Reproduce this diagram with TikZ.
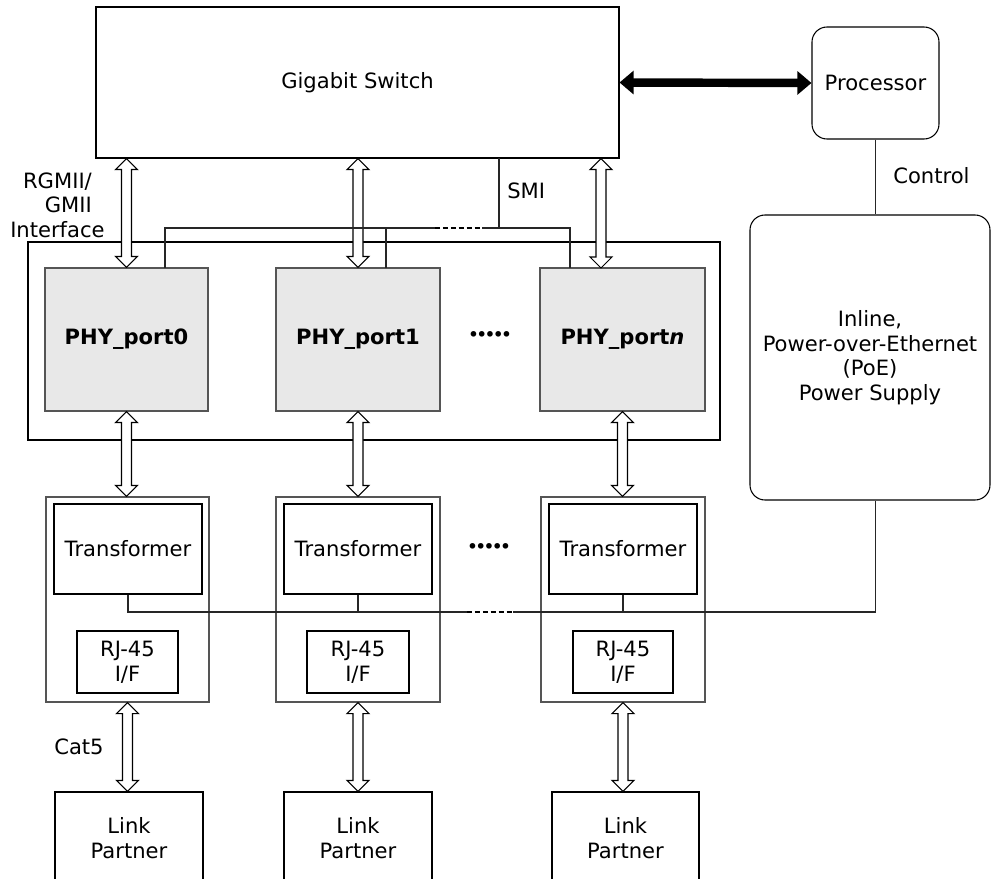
\documentclass[tikz,border=0pt]{standalone}
\usepackage{fontspec}
\setmainfont{DejaVu Sans}
\usetikzlibrary{arrows.meta,calc}
\definecolor{phygray}{RGB}{232,232,232}
\definecolor{edgegray}{RGB}{85,85,85}

\tikzset{
  sz/.style 2 args={minimum width=#1*0.02cm, minimum height=#2*0.02cm},
  box/.style={draw=black, line width=0.6pt, inner sep=0pt, align=center, font=\fontsize{12}{14}\selectfont},
  rbox/.style={box, rounded corners=0.3cm},
  phybox/.style={box, draw=edgegray, fill=phygray, font=\fontsize{12}{14}\selectfont\bfseries},
  colbox/.style={box, draw=edgegray},
  lbl/.style={inner sep=0pt, align=center, font=\fontsize{12}{14}\selectfont},
  dots/.style={inner sep=0pt, font=\fontsize{11}{11}\selectfont},
  wire/.style={draw=black!85, line width=0.6pt},
  gapline/.style={draw=black, line width=1.1pt, dash pattern=on 3pt off 1.5pt},
  fatarrow/.style={line width=4.8pt, {Triangle[length=8pt,width=13pt]}-{Triangle[length=8pt,width=13pt]}},
  bus/.style={draw=black, line width=0.6pt, fill=white, to path={
    -- ($(\tikztostart)+(0.22cm,-0.22cm)$) -- ($(\tikztostart)+(0.1cm,-0.22cm)$)
    -- ($(\tikztotarget)+(0.1cm,0.22cm)$)  -- ($(\tikztotarget)+(0.22cm,0.22cm)$)
    -- (\tikztotarget)
    -- ($(\tikztotarget)+(-0.22cm,0.22cm)$) -- ($(\tikztotarget)+(-0.1cm,0.22cm)$)
    -- ($(\tikztostart)+(-0.1cm,-0.22cm)$) -- ($(\tikztostart)+(-0.22cm,-0.22cm)$)
    -- cycle}}
}
\newcommand{\fivedots}{•\kern-1.8pt•\kern-1.8pt•\kern-1.8pt•\kern-1.8pt•}

\begin{document}
\begin{tikzpicture}[x=0.02cm, y=-0.02cm]
            \clip (0,0) rectangle (992,879);

            \node[box,    sz={523}{151}] (switch)  at (357.5,  82.5) {Gigabit Switch};
            \node[rbox,   sz={127}{112}] (proc)    at (875.5,  83.0) {Processor};
            \node[rbox,   sz={240}{285}] (poe)     at (870.0, 357.5) {Inline,\\Power-over-Ethernet\\(PoE)\\Power Supply};

            \node[box,    sz={692}{198}] (phyarea) at (374.0, 341.0) {};
            \node[phybox, sz={163}{143}] (phy0)    at (126.5, 339.5) {PHY\_port0};
            \node[phybox, sz={164}{143}] (phy1)    at (358.0, 339.5) {PHY\_port1};
            \node[phybox, sz={165}{143}] (phyn)    at (622.5, 339.5) {PHY\_port\textit{n}};

            \node[colbox, sz={163}{205}] (col0)    at (127.5, 599.5) {};
            \node[colbox, sz={164}{205}] (col1)    at (358.0, 599.5) {};
            \node[colbox, sz={164}{205}] (col2)    at (623.0, 599.5) {};
            \node[box,    sz={148}{90}]  (tr0)     at (128.0, 549.0) {Transformer};
            \node[box,    sz={148}{90}]  (tr1)     at (358.0, 549.0) {Transformer};
            \node[box,    sz={148}{90}]  (tr2)     at (623.0, 549.0) {Transformer};
            \node[box,    sz={101}{62}]  (rj0)     at (127.5, 662.0) {RJ-45\\I/F};
            \node[box,    sz={102}{62}]  (rj1)     at (358.0, 662.0) {RJ-45\\I/F};
            \node[box,    sz={100}{62}]  (rj2)     at (623.0, 662.0) {RJ-45\\I/F};

            \node[box,    sz={148}{92}]  (lp0)     at (129.0, 838.0) {Link\\Partner};
            \node[box,    sz={148}{92}]  (lp1)     at (358.0, 838.0) {Link\\Partner};
            \node[box,    sz={147}{92}]  (lp2)     at (625.5, 838.0) {Link\\Partner};

            \node[dots]                  (dotsphy) at (490.0, 337.0) {\fivedots};
            \node[dots]                  (dotstr)  at (489.0, 549.0) {\fivedots};

            \node[lbl, anchor=east]      (rgmii)   at (105.0, 205.0) {\hfill RGMII/\\\hfill GMII\\Interface};
            \node[lbl]                   (cat5)    at ( 79.0, 747.0) {Cat5};
            \node[lbl, anchor=west]      (smi)     at (507.0, 191.0) {SMI};
            \node[lbl, anchor=west]      (ctrl)    at (893.0, 176.0) {Control};

            \coordinate (busn)    at (601.0, 268.0);
            \coordinate (smitop)  at (499.0, 158.0);
            \coordinate (smi0)    at (165.0, 268.0);
            \coordinate (smi1)    at (386.0, 268.0);
            \coordinate (smin)    at (570.0, 268.0);
            \coordinate (smigapl) at (435.0, 228.0);
            \coordinate (smigapr) at (482.0, 228.0);
            \coordinate (pwrgapl) at (467.0, 612.0);
            \coordinate (pwrgapr) at (513.0, 612.0);

            \draw[fatarrow] (switch.east) -- (proc.west);
            \draw[wire] (proc.south) -- (proc.south |- poe.north);

            \draw[bus] (phy0.north |- switch.south) to (phy0.north);
            \draw[bus] (phy1.north |- switch.south) to (phy1.north);
            \draw[bus] (busn |- switch.south) to (busn);
            \draw[bus] (phy0.south) to (phy0.south |- col0.north);
            \draw[bus] (phy1.south) to (phy1.south |- col1.north);
            \draw[bus] (phyn.south) to (phyn.south |- col2.north);
            \draw[bus] (col0.south) to (col0.south |- lp0.north);
            \draw[bus] (col1.south) to (col1.south |- lp1.north);
            \draw[bus] (col2.south) to (col2.south |- lp2.north);

            \draw[wire] (smi0) |- (smigapl);
            \draw[gapline] (smigapl) -- (smigapr);
            \draw[wire] (smigapr) -| (smin);
            \draw[wire] (smi1) -- (smi1 |- smigapl);
            \draw[wire] (smitop) -- (smitop |- smigapl);

            \draw[wire] (tr0.south) |- (pwrgapl);
            \draw[gapline] (pwrgapl) -- (pwrgapr);
            \draw[wire] (pwrgapr) -| (proc.south |- poe.south);
            \draw[wire] (tr1.south) -- (tr1.south |- pwrgapl);
            \draw[wire] (tr2.south) -- (tr2.south |- pwrgapl);
            \end{tikzpicture}
\end{document}
